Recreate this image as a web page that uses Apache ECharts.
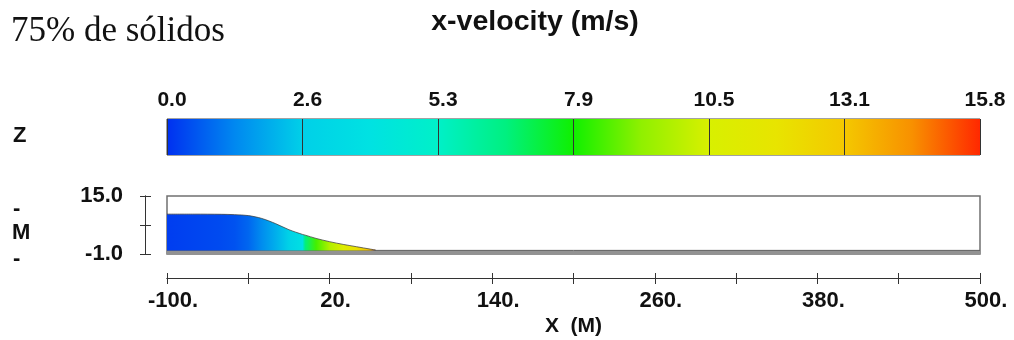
<!DOCTYPE html>
<html>
<head>
<meta charset="utf-8">
<title>x-velocity (m/s)</title>
<script src="https://cdn.jsdelivr.net/npm/echarts@6.0.0/dist/echarts.min.js"></script>
<style>
  html, body { margin: 0; padding: 0; background: #fff; }
  #chart { width: 1014px; height: 340px; }
</style>
</head>
<body>
<div id="chart"></div>
<script>
// colour bar: labels at the 7 divisions, colours sampled along the bar
const cbLabels = ['0.0', '2.6', '5.3', '7.9', '10.5', '13.1', '15.8'];
const cbMax = 15.76;
const cbColors = ['#0030f0', '#0088f0', '#00d0e8', '#00e2e2', '#00f0c8', '#00f080',
  '#10f000', '#90f000', '#d8f000', '#e8e400', '#f4c800', '#f89000', '#ff2800'];

// flow profile: x position (m), free surface height (m), x-velocity (m/s)
const fluidX = [-100, -80, -60, -50, -40, -30, -20, -10, 0, 2, 10, 20, 30, 40, 50, 54];
const fluidH = [10.0, 10.0, 9.95, 9.85, 9.6, 8.8, 7.4, 5.7, 4.4, 4.2, 3.3, 2.4, 1.65, 1.0, 0.35, 0.1];
const fluidV = [0.2, 0.3, 0.4, 0.5, 0.8, 1.4, 2.0, 2.8, 3.8, 6.6, 8.4, 9.8, 10.9, 12.0, 13.4, 15.0];

// bed
const bedX = [-100, 500];
const bedH = [0, 0];

// axis labels
const xLabelled = [-100, 20, 140, 260, 380, 500];
const yLabelled = [-1, 15];

const font = 'Liberation Sans';

function cmap(v) {
  return echarts.color.lerp(Math.min(Math.max(v / cbMax, 0), 1), cbColors);
}

const x0 = fluidX[0], x1 = fluidX[fluidX.length - 1];
const fluidGrad = new echarts.graphic.LinearGradient(0, 0, 1, 0,
  fluidX.map((x, i) => ({ offset: (x - x0) / (x1 - x0), color: cmap(fluidV[i]) })));
const cbGrad = new echarts.graphic.LinearGradient(0, 0, 1, 0,
  cbColors.map((c, i) => ({ offset: i / (cbColors.length - 1), color: c })));

const chart = echarts.init(document.getElementById('chart'), null, { renderer: 'canvas' });

const xBase = {
  gridIndex: 0, type: 'value', min: -100, max: 500, interval: 60,
  position: 'bottom', offset: 24,
  axisLine: { show: true, onZero: false, lineStyle: { color: '#333', width: 1 } },
  splitLine: { show: false }
};
const yBase = {
  gridIndex: 0, type: 'value', min: -1, max: 15, interval: 8,
  position: 'left', offset: 22,
  axisLine: { show: true, onZero: false, lineStyle: { color: '#333', width: 1 } },
  splitLine: { show: false }
};

const option = {
  animation: false,
  textStyle: { fontFamily: font },
  grid: [
    { left: 167, right: 34, top: 196, bottom: 86, show: true,
      borderColor: '#707070', borderWidth: 1.5, backgroundColor: 'transparent' },
    { left: 167, right: 34, top: 119, height: 36, show: true,
      borderColor: '#444', borderWidth: 1, backgroundColor: 'transparent' }
  ],
  xAxis: [
    Object.assign({}, xBase, {
      axisTick: { show: true, inside: false, length: 6, lineStyle: { color: '#333' } },
      axisLabel: {
        margin: 12, color: '#111', fontSize: 22, fontWeight: 'bold', fontFamily: font,
        padding: [0, 0, 0, 12],
        formatter: v => xLabelled.includes(v) ? v + '.' : ''
      },
      name: 'X  (M)', nameLocation: 'middle', nameGap: 38,
      nameTextStyle: { color: '#111', fontSize: 21, fontWeight: 'bold', fontFamily: font }
    }),
    Object.assign({}, xBase, {
      axisTick: { show: true, inside: true, length: 5, lineStyle: { color: '#333' } },
      axisLabel: { show: false }
    }),
    { gridIndex: 1, type: 'value', min: 0, max: cbLabels.length - 1, interval: 1,
      position: 'top', z: 10,
      axisLine: { show: false }, axisTick: { show: false },
      splitLine: { show: true, lineStyle: { color: '#333', width: 1 } },
      axisLabel: {
        margin: 8, color: '#111', fontSize: 21, fontWeight: 'bold', fontFamily: font,
        padding: [0, 0, 0, 10],
        formatter: v => cbLabels[v]
      }
    }
  ],
  yAxis: [
    Object.assign({}, yBase, {
      axisTick: { show: true, inside: false, length: 5, lineStyle: { color: '#333' } },
      axisLabel: {
        margin: 22, color: '#111', fontSize: 22, fontWeight: 'bold', fontFamily: font,
        formatter: v => yLabelled.includes(v) ? v.toFixed(1) : ''
      }
    }),
    Object.assign({}, yBase, {
      axisTick: { show: true, inside: true, length: 6, lineStyle: { color: '#333' } },
      axisLabel: { show: false }
    }),
    { gridIndex: 1, type: 'value', min: 0, max: 1, show: false }
  ],
  graphic: [
    { type: 'text', left: 11, top: 14,
      style: { text: '75% de sólidos', font: '35px "Liberation Serif"', fill: '#111' } },
    { type: 'text', x: 535, y: 22,
      style: { text: 'x-velocity (m/s)', font: 'bold 28.5px "Liberation Sans"', fill: '#111',
        textAlign: 'center', textVerticalAlign: 'middle' } },
    { type: 'text', x: 13, y: 136,
      style: { text: 'Z', font: 'bold 22px "Liberation Sans"', fill: '#111', textVerticalAlign: 'middle' } },
    { type: 'text', x: 13, y: 209,
      style: { text: '-', font: 'bold 22px "Liberation Sans"', fill: '#111', textVerticalAlign: 'middle' } },
    { type: 'text', x: 12, y: 233,
      style: { text: 'M', font: 'bold 22px "Liberation Sans"', fill: '#111', textVerticalAlign: 'middle' } },
    { type: 'text', x: 13, y: 259,
      style: { text: '-', font: 'bold 22px "Liberation Sans"', fill: '#111', textVerticalAlign: 'middle' } }
  ],
  series: [
    {
      name: 'colourbar', type: 'line', xAxisIndex: 2, yAxisIndex: 2,
      data: [[0, 1], [cbLabels.length - 1, 1]],
      symbol: 'none', silent: true,
      lineStyle: { width: 0 },
      areaStyle: { origin: 'start', color: cbGrad, opacity: 1 },
      z: 1
    },
    {
      name: 'bed', type: 'line', xAxisIndex: 0, yAxisIndex: 0,
      data: bedX.map((x, i) => [x, bedH[i]]),
      symbol: 'none', silent: true,
      lineStyle: { color: '#5e5e5e', width: 1 },
      areaStyle: { origin: 'start', color: '#929292', opacity: 1 },
      z: 2
    },
    {
      name: 'x-velocity', type: 'line', xAxisIndex: 0, yAxisIndex: 0,
      data: fluidX.map((x, i) => [x, fluidH[i]]),
      symbol: 'none', silent: true, smooth: 0.3,
      lineStyle: { color: 'rgba(60,60,60,0.75)', width: 1 },
      areaStyle: { origin: 0, color: fluidGrad, opacity: 1 },
      z: 3
    }
  ]
};

chart.setOption(option);
</script>
</body>
</html>
